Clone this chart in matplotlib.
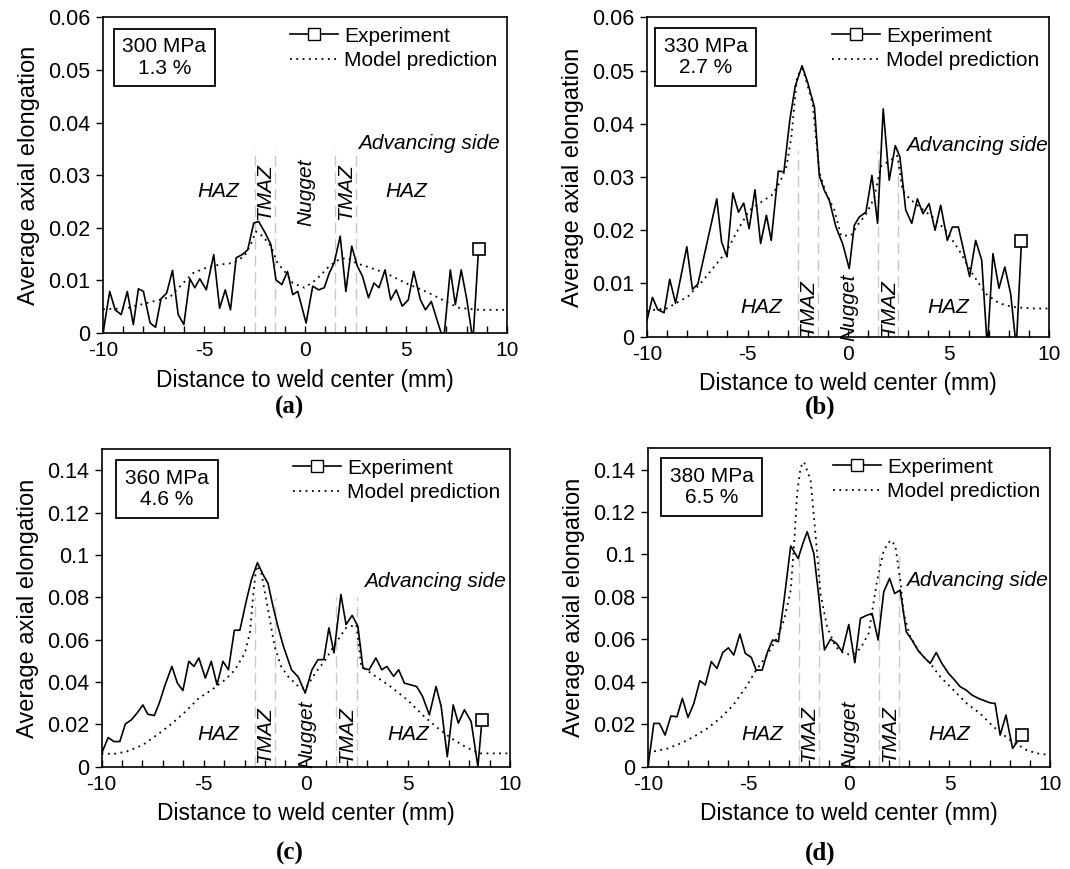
import matplotlib
matplotlib.use('Agg')
import matplotlib.pyplot as plt
from matplotlib.lines import Line2D
from matplotlib.ticker import MultipleLocator, FuncFormatter

# ---- (a) 300 MPa ----
xa_exp = [-10.00, -9.67, -9.40, -9.10, -8.80, -8.50, -8.25, -8.00, -7.67, -7.40, -7.13, -6.85, -6.56,
          -6.28, -6.00, -5.70, -5.46, -5.21, -4.89, -4.52, -4.23, -3.95, -3.69, -3.41, -3.11, -2.84,
          -2.54, -2.30, -1.97, -1.69, -1.44, -1.15, -0.87, -0.61, -0.36, 0.05, 0.38, 0.67, 0.95, 1.20,
          1.44, 1.74, 2.02, 2.31, 2.59, 2.84, 3.14, 3.41, 3.66, 3.96, 4.24, 4.51, 4.81, 5.11, 5.38,
          5.71, 5.96, 6.25, 6.53, 6.86, 7.19, 7.44, 7.73, 8.01, 8.31, 8.59]
ya_exp = [0.0000, 0.0079, 0.0044, 0.0035, 0.0079, 0.0016, 0.0084, 0.0079, 0.0019, 0.0011, 0.0065, 0.0076, 0.0119,
          0.0035, 0.0016, 0.0103, 0.0086, 0.0103, 0.0082, 0.0149, 0.0047, 0.0082, 0.0044, 0.0143, 0.0149, 0.0158,
          0.0209, 0.0212, 0.0190, 0.0168, 0.0101, 0.0092, 0.0117, 0.0073, 0.0079, 0.0019, 0.0089, 0.0082, 0.0086, 0.0114,
          0.0133, 0.0184, 0.0079, 0.0165, 0.0127, 0.0108, 0.0067, 0.0095, 0.0086, 0.0120, 0.0063, 0.0082, 0.0051, 0.0063, 0.0117,
          0.0063, 0.0044, 0.0060, 0.0025, -0.0015, 0.0120, 0.0054, 0.0120, 0.0063, -0.0015, 0.0160]
xa_mod = [-10.0, -8.82, -7.84, -6.69, -6.03, -5.54, -4.89, -4.23, -3.57, -3.00, -2.67, -2.43, -2.10, -1.69,
          -1.36, -0.95, -0.61, -0.03, 0.54, 1.20, 1.69, 2.10, 2.51, 3.00, 3.99, 4.97, 5.80, 6.45, 7.11,
          7.60, 8.60, 10.0]
ya_mod = [0.0045, 0.0047, 0.0057, 0.0068, 0.0095, 0.0114, 0.0124, 0.0130, 0.0133, 0.0146, 0.0170, 0.0193, 0.0184, 0.0165,
          0.0133, 0.0114, 0.0095, 0.0086, 0.0101, 0.0127, 0.0140, 0.0143, 0.0133, 0.0127, 0.0114, 0.0095, 0.0082, 0.0070, 0.0057,
          0.0048, 0.0044, 0.0044]

# ---- (b) 330 MPa ----
xb_exp = [-10.00, -9.73, -9.47, -9.15, -8.87, -8.58, -8.02, -7.74, -7.47, -6.53, -6.29, -6.02, -5.73, -5.45,
          -5.19, -4.92, -4.63, -4.35, -4.06, -3.82, -3.47, -3.19, -2.90, -2.63, -2.29, -2.01, -1.67, -1.43,
          -1.18, -0.93, -0.60, -0.27, 0.06, 0.31, 0.56, 0.89, 1.19, 1.47, 1.75, 2.05, 2.35, 2.58, 2.87,
          3.17, 3.45, 3.73, 4.03, 4.33, 4.61, 4.94, 5.19, 5.49, 5.77, 6.05, 6.35, 6.65, 6.93, 7.21, 7.51,
          7.80, 8.09, 8.37, 8.63]
yb_exp = [0.0031, 0.0074, 0.0051, 0.0045, 0.0108, 0.0063, 0.0169, 0.0089, 0.0099, 0.0259, 0.0178, 0.0150, 0.0270, 0.0234,
          0.0251, 0.0203, 0.0276, 0.0175, 0.0228, 0.0181, 0.0311, 0.0310, 0.0406, 0.0470, 0.0509, 0.0478, 0.0431, 0.0303,
          0.0275, 0.0256, 0.0206, 0.0175, 0.0128, 0.0209, 0.0225, 0.0234, 0.0303, 0.0213, 0.0428, 0.0294, 0.0359, 0.0338, 0.0238,
          0.0213, 0.0259, 0.0231, 0.0250, 0.0200, 0.0247, 0.0181, 0.0206, 0.0206, 0.0159, 0.0113, 0.0181, 0.0144, -0.0020, 0.0156, 0.0091,
          0.0131, 0.0081, -0.0020, 0.0180]
xb_mod = [-10.0, -9.76, -9.03, -7.98, -7.34, -6.69, -6.05, -5.40, -4.92, -4.44, -3.79, -3.39, -3.06, -2.82, -2.66,
          -2.53, -2.25, -1.76, -1.43, -1.10, -0.68, -0.35, 0.15, 0.48, 0.89, 1.30, 1.63, 2.05, 2.46, 2.71,
          3.04, 3.54, 4.20, 4.86, 5.52, 6.18, 6.84, 7.51, 8.17, 9.16, 10.0]
yb_mod = [0.0048, 0.0050, 0.0053, 0.0075, 0.0100, 0.0130, 0.0160, 0.0206, 0.0237, 0.0250, 0.0266, 0.0290, 0.0320, 0.0375, 0.0440,
          0.0490, 0.0503, 0.0438, 0.0310, 0.0270, 0.0238, 0.0190, 0.0190, 0.0210, 0.0230, 0.0260, 0.0320, 0.0330, 0.0340, 0.0275,
          0.0260, 0.0244, 0.0225, 0.0200, 0.0163, 0.0119, 0.0081, 0.0063, 0.0056, 0.0053, 0.0053]

# ---- (c) 360 MPa ----
xc_exp = [-10.00, -9.68, -9.40, -9.11, -8.84, -8.55, -8.27, -7.98, -7.74, -7.42, -7.18, -6.89, -6.56, -6.29,
          -6.02, -5.73, -5.48, -5.24, -4.92, -4.63, -4.35, -4.06, -3.79, -3.50, -3.23, -2.90, -2.66, -2.37,
          -2.10, -1.85, -1.61, -1.37, -1.10, -0.70, -0.37, -0.03, 0.30, 0.60, 0.88, 1.13, 1.38, 1.72, 1.97,
          2.27, 2.55, 2.80, 3.10, 3.43, 3.72, 3.97, 4.30, 4.55, 4.83, 5.13, 5.43, 5.72, 6.05, 6.38, 6.63,
          6.93, 7.22, 7.47, 7.77, 8.10, 8.43, 8.63]
yc_exp = [0.0063, 0.0138, 0.0119, 0.0119, 0.0202, 0.0221, 0.0253, 0.0292, 0.0248, 0.0242, 0.0300, 0.0387, 0.0474, 0.0395,
          0.0360, 0.0498, 0.0474, 0.0514, 0.0419, 0.0498, 0.0387, 0.0498, 0.0458, 0.0645, 0.0645, 0.0790, 0.0885, 0.0964,
          0.0909, 0.0866, 0.0759, 0.0664, 0.0570, 0.0458, 0.0424, 0.0348, 0.0458, 0.0506, 0.0506, 0.0656, 0.0538, 0.0814, 0.0672,
          0.0715, 0.0664, 0.0466, 0.0458, 0.0514, 0.0458, 0.0474, 0.0427, 0.0458, 0.0395, 0.0387, 0.0379, 0.0332, 0.0245, 0.0379, 0.0285,
          0.0047, 0.0292, 0.0206, 0.0269, 0.0213, 0.0000, 0.0221]
xc_mod = [-10.0, -9.44, -8.79, -7.98, -7.18, -6.53, -5.89, -5.24, -4.60, -3.95, -3.47, -2.98, -2.74, -2.58,
          -2.42, -2.18, -1.85, -1.53, -1.21, -0.87, -0.37, -0.03, 0.47, 0.97, 1.47, 1.97, 2.47, 2.72, 3.30,
          4.13, 4.97, 5.80, 6.47, 7.13, 7.80, 8.47, 10.0]
yc_mod = [0.0063, 0.0060, 0.0071, 0.0103, 0.0158, 0.0206, 0.0261, 0.0324, 0.0364, 0.0411, 0.0458, 0.0538, 0.0632, 0.0806,
          0.0949, 0.0917, 0.0743, 0.0569, 0.0474, 0.0427, 0.0380, 0.0367, 0.0443, 0.0506, 0.0585, 0.0656, 0.0672, 0.0474, 0.0435,
          0.0380, 0.0316, 0.0237, 0.0182, 0.0134, 0.0095, 0.0063, 0.0063]

# ---- (d) 380 MPa ----
xd_exp = [-10.00, -9.71, -9.43, -9.15, -8.86, -8.56, -8.29, -8.01, -7.72, -7.42, -7.15, -6.85, -6.57, -6.28,
          -6.00, -5.73, -5.43, -5.16, -4.86, -4.62, -4.32, -4.05, -3.80, -3.51, -3.23, -2.90, -2.53, -2.30,
          -2.08, -1.75, -1.50, -1.22, -0.92, -0.62, -0.34, -0.01, 0.29, 0.57, 0.90, 1.15, 1.45, 1.73, 2.02,
          2.27, 2.55, 2.85, 3.13, 3.43, 3.71, 4.04, 4.34, 4.62, 4.95, 5.23, 5.53, 5.83, 6.11, 6.44, 6.74,
          7.02, 7.27, 7.52, 7.81, 8.14, 8.60]
yd_exp = [0.0000, 0.0204, 0.0204, 0.0149, 0.0239, 0.0235, 0.0322, 0.0232, 0.0298, 0.0405, 0.0385, 0.0495, 0.0463, 0.0538,
          0.0560, 0.0526, 0.0625, 0.0534, 0.0515, 0.0455, 0.0455, 0.0542, 0.0597, 0.0589, 0.0785, 0.1040, 0.0981, 0.1050,
          0.1107, 0.1005, 0.0800, 0.0550, 0.0601, 0.0581, 0.0542, 0.0670, 0.0490, 0.0699, 0.0714, 0.0722, 0.0597, 0.0824, 0.0887,
          0.0816, 0.0832, 0.0636, 0.0597, 0.0549, 0.0518, 0.0487, 0.0538, 0.0487, 0.0440, 0.0411, 0.0377, 0.0361, 0.0338, 0.0322, 0.0311,
          0.0301, 0.0298, 0.0149, 0.0243, 0.0086, 0.0149]
xd_mod = [-10.0, -9.76, -9.02, -8.37, -7.72, -7.06, -6.41, -5.76, -5.11, -4.62, -4.13, -3.64, -3.23, -2.90,
          -2.74, -2.58, -2.41, -2.24, -1.91, -1.67, -1.42, -1.09, -0.67, -0.26, 0.15, 0.57, 0.98, 1.40, 1.73,
          2.06, 2.30, 2.55, 2.72, 3.05, 3.55, 4.04, 4.54, 5.20, 5.86, 6.52, 7.19, 8.01, 8.84, 9.34, 10.0]
yd_mod = [0.0065, 0.0071, 0.0086, 0.0110, 0.0141, 0.0180, 0.0228, 0.0290, 0.0377, 0.0455, 0.0518, 0.0597, 0.0691, 0.0832,
          0.1036, 0.1287, 0.1410, 0.1436, 0.1350, 0.1099, 0.0816, 0.0659, 0.0565, 0.0534, 0.0526, 0.0557, 0.0628, 0.0879, 0.1020,
          0.1067, 0.1044, 0.0879, 0.0722, 0.0612, 0.0534, 0.0487, 0.0424, 0.0361, 0.0298, 0.0251, 0.0188, 0.0126, 0.0078, 0.0063, 0.0055]

box_labels = ['300 MPa\n1.3 %', '330 MPa\n2.7 %', '360 MPa\n4.6 %', '380 MPa\n6.5 %']
captions = ['(a)', '(b)', '(c)', '(d)']
zone_bounds = [-2.5, -1.5, 1.5, 2.5]

SANS = 'Liberation Sans'


def draw_panel(ax, xe, ye, xm, ym, ymax, ystep, box_text, box_pos, zone_top, zone_y, adv_pos):
    ax.set_xlim(-10, 10)
    ax.set_ylim(0, ymax)
    for xb in zone_bounds:
        ax.plot([xb, xb], [0, zone_top], color='#c8c8c8', lw=1.0, ls=(0, (8, 4)), zorder=1)
    ax.plot(xm, ym, color='black', lw=1.3, ls=(0, (1, 2.5)), zorder=2)
    ax.plot(xe, ye, color='black', lw=1.2, marker='s', markevery=[len(xe) - 1],
            markersize=8, markerfacecolor='white', markeredgecolor='black', markeredgewidth=1.2, zorder=3)

    ax.xaxis.set_major_locator(MultipleLocator(5))
    ax.xaxis.set_minor_locator(MultipleLocator(1))
    ax.yaxis.set_major_locator(MultipleLocator(ystep))
    ax.yaxis.set_major_formatter(FuncFormatter(lambda v, p: '%g' % round(v, 4)))
    ax.tick_params(axis='x', which='both', direction='in', length=5, width=1, labelsize=15, pad=6)
    ax.tick_params(axis='y', which='major', direction='out', length=5, width=1, labelsize=15.5, pad=4)
    for s in ax.spines.values():
        s.set_linewidth(1.2)

    ax.set_xlabel('Distance to weld center (mm)', fontsize=16.5, labelpad=6)
    ax.set_ylabel('Average axial elongation', fontsize=17, labelpad=6)

    ax.text(box_pos[0], box_pos[1], box_text, transform=ax.transAxes, ha='center', va='center',
            fontsize=15, linespacing=1.15,
            bbox=dict(boxstyle='square,pad=0.42', fc='white', ec='black', lw=1.3))

    handles = [Line2D([], [], color='black', lw=1.2, marker='s', markersize=8,
                      markerfacecolor='white', markeredgecolor='black'),
               Line2D([], [], color='black', lw=1.3, ls=(0, (1, 2.5)))]
    ax.legend(handles, ['Experiment', 'Model prediction'], loc='upper right', frameon=False,
              fontsize=15, handlelength=2.3, handletextpad=0.3, labelspacing=0.25,
              borderaxespad=0.15, borderpad=0.3)

    it = dict(fontsize=15, style='italic', ha='center', va='center', zorder=4)
    ax.text(-4.3, zone_y, 'HAZ', **it)
    ax.text(-2.0, zone_y, 'TMAZ', rotation=90, **it)
    ax.text(0.05, zone_y, 'Nugget', rotation=90, **it)
    ax.text(2.0, zone_y, 'TMAZ', rotation=90, **it)
    ax.text(5.0, zone_y, 'HAZ', **it)
    ax.text(adv_pos[0], adv_pos[1], 'Advancing side', **it)


def main():
    plt.rcParams['font.family'] = [SANS, 'DejaVu Sans']
    plt.rcParams['axes.unicode_minus'] = False
    fig = plt.figure(figsize=(10.7, 8.69), dpi=100)

    ax_a = fig.add_axes([0.0963, 0.6168, 0.3776, 0.3633])
    ax_b = fig.add_axes([0.6047, 0.6125, 0.3757, 0.3676])
    ax_c = fig.add_axes([0.0950, 0.1177, 0.3816, 0.3653])
    ax_d = fig.add_axes([0.6056, 0.1177, 0.3757, 0.3664])

    draw_panel(ax_a, xa_exp, ya_exp, xa_mod, ya_mod, 0.06, 0.01, box_labels[0], (0.152, 0.873),
               0.035, 0.0268, (6.15, 0.036))
    draw_panel(ax_b, xb_exp, yb_exp, xb_mod, yb_mod, 0.06, 0.01, box_labels[1], (0.146, 0.875),
               0.035, 0.0055, (6.4, 0.036))
    draw_panel(ax_c, xc_exp, yc_exp, xc_mod, yc_mod, 0.15, 0.02, box_labels[2], (0.160, 0.876),
               0.08, 0.0153, (6.3, 0.0874))
    draw_panel(ax_d, xd_exp, yd_exp, xd_mod, yd_mod, 0.15, 0.02, box_labels[3], (0.158, 0.879),
               0.10, 0.0154, (6.35, 0.0876))

    cap = dict(fontsize=18, fontweight='bold', family='Liberation Serif', ha='center', va='center')
    fig.text(289 / 1070, 1 - 407 / 869, captions[0], **cap)
    fig.text(820 / 1070, 1 - 407 / 869, captions[1], **cap)
    fig.text(290 / 1070, 1 - 853 / 869, captions[2], **cap)
    fig.text(820 / 1070, 1 - 853 / 869, captions[3], **cap)

    fig.savefig('out.png', dpi=100)


if __name__ == '__main__':
    main()
